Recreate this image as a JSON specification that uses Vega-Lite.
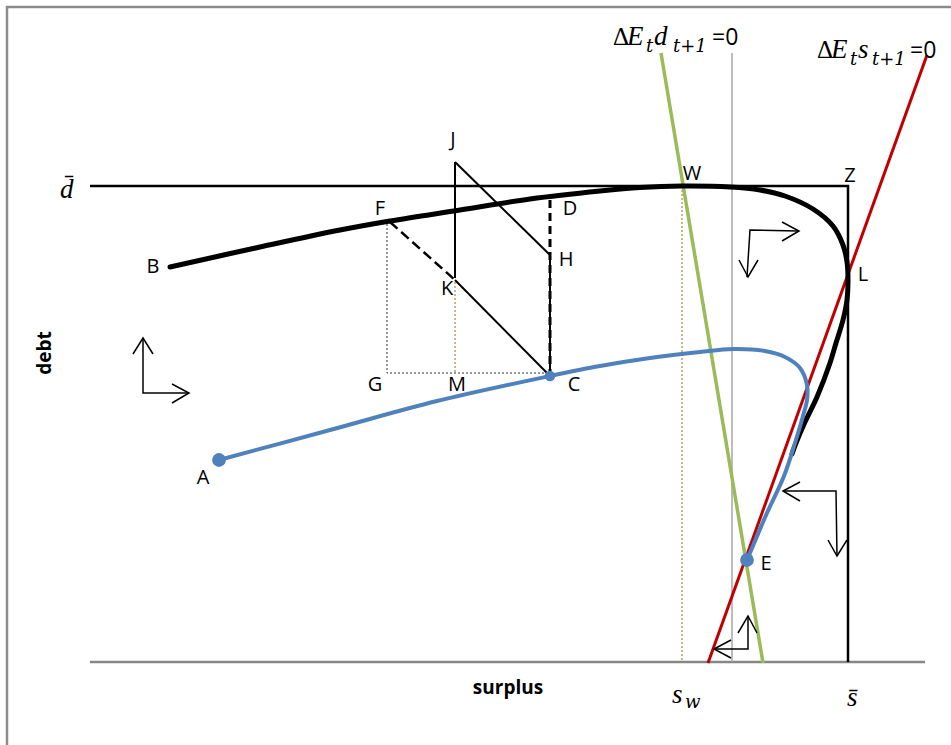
{
  "$schema": "https://vega.github.io/schema/vega-lite/v6.json",
  "width": 951,
  "height": 745,
  "padding": 0,
  "autosize": {"type": "none"},
  "background": "white",
  "config": {"view": {"stroke": null}},
  "encoding": {
    "x": {"field": "x", "type": "quantitative", "scale": {"domain": [-9, 86.1], "nice": false, "zero": false}, "axis": null},
    "y": {"field": "y", "type": "quantitative", "scale": {"domain": [-8.3, 66.2], "nice": false, "zero": false}, "axis": null}
  },
  "layer": [
    {
      "data": {"values": [{"id": "f", "o": 1, "x": -8.3, "y": -9}, {"id": "f", "o": 2, "x": -8.3, "y": 65.5}, {"id": "f", "o": 3, "x": 87, "y": 65.5}]},
      "mark": {"type": "line", "color": "#8c8c8c", "strokeWidth": 2.5},
      "encoding": {"detail": {"field": "id"}, "order": {"field": "o"}}
    },
    {
      "data": {"values": [{"id": "ax", "o": 1, "x": 0, "y": 0}, {"id": "ax", "o": 2, "x": 83.5, "y": 0}]},
      "mark": {"type": "line", "color": "#868686", "strokeWidth": 2.5},
      "encoding": {"detail": {"field": "id"}, "order": {"field": "o"}}
    },
    {
      "data": {"values": [{"id": "v", "o": 1, "x": 64.2, "y": 60.9}, {"id": "v", "o": 2, "x": 64.2, "y": 0}]},
      "mark": {"type": "line", "color": "#a6a6a6", "strokeWidth": 1.5},
      "encoding": {"detail": {"field": "id"}, "order": {"field": "o"}}
    },
    {
      "data": {"values": [
        {"id": "w", "o": 1, "x": 59.2, "y": 47.6}, {"id": "w", "o": 2, "x": 59.2, "y": 0.2},
        {"id": "km", "o": 1, "x": 36.5, "y": 38.0}, {"id": "km", "o": 2, "x": 36.5, "y": 28.9}
      ]},
      "mark": {"type": "line", "color": "#b4a06a", "strokeWidth": 1.5, "strokeDash": [2, 2]},
      "encoding": {"detail": {"field": "id"}, "order": {"field": "o"}}
    },
    {
      "data": {"values": [
        {"id": "fgc", "o": 1, "x": 29.7, "y": 44.2}, {"id": "fgc", "o": 2, "x": 29.7, "y": 28.9}, {"id": "fgc", "o": 3, "x": 46.0, "y": 28.9}
      ]},
      "mark": {"type": "line", "color": "#333333", "strokeWidth": 1, "strokeDash": [2, 2]},
      "encoding": {"detail": {"field": "id"}, "order": {"field": "o"}}
    },
    {
      "data": {"values": [{"id": "r", "o": 1, "x": 83.7, "y": 60.7}, {"id": "r", "o": 2, "x": 61.8, "y": -0.1}]},
      "mark": {"type": "line", "color": "#C00000", "strokeWidth": 3},
      "encoding": {"detail": {"field": "id"}, "order": {"field": "o"}}
    },
    {
      "data": {"values": [{"id": "g", "o": 1, "x": 57.1, "y": 60.9}, {"id": "g", "o": 2, "x": 67.3, "y": -0.1}]},
      "mark": {"type": "line", "color": "#9BBB59", "strokeWidth": 3.5},
      "encoding": {"detail": {"field": "id"}, "order": {"field": "o"}}
    },
    {
      "data": {"values": [
        {"id": "jk", "o": 1, "x": 36.5, "y": 50.0}, {"id": "jk", "o": 2, "x": 36.5, "y": 38.4},
        {"id": "jh", "o": 1, "x": 36.5, "y": 50.0}, {"id": "jh", "o": 2, "x": 46.0, "y": 40.7},
        {"id": "kc", "o": 1, "x": 36.5, "y": 38.2}, {"id": "kc", "o": 2, "x": 46.0, "y": 28.6},
        {"id": "hc", "o": 1, "x": 46.0, "y": 40.7}, {"id": "hc", "o": 2, "x": 46.0, "y": 28.6}
      ]},
      "mark": {"type": "line", "color": "black", "strokeWidth": 2},
      "encoding": {"detail": {"field": "id"}, "order": {"field": "o"}}
    },
    {
      "data": {"values": [
        {"id": "dc", "o": 1, "x": 46.0, "y": 46.2}, {"id": "dc", "o": 2, "x": 46.0, "y": 28.6}
      ]},
      "mark": {"type": "line", "color": "black", "strokeWidth": 3, "strokeDash": [8, 5]},
      "encoding": {"detail": {"field": "id"}, "order": {"field": "o"}}
    },
    {
      "data": {"values": [
        {"id": "fk", "o": 1, "x": 30.0, "y": 44.0}, {"id": "fk", "o": 2, "x": 36.5, "y": 38.2}
      ]},
      "mark": {"type": "line", "color": "black", "strokeWidth": 2.5, "strokeDash": [10, 5]},
      "encoding": {"detail": {"field": "id"}, "order": {"field": "o"}}
    },
    {
      "data": {"values": [
        {"id": "dbar", "o": 1, "x": 0, "y": 47.6}, {"id": "dbar", "o": 2, "x": 75.8, "y": 47.6}, {"id": "dbar", "o": 3, "x": 75.8, "y": 0}
      ]},
      "mark": {"type": "line", "color": "black", "strokeWidth": 2.5},
      "encoding": {"detail": {"field": "id"}, "order": {"field": "o"}}
    },
    {
      "data": {"values": [
        {"o": 1, "x": 8.0, "y": 39.5}, {"o": 2, "x": 17.0, "y": 41.5}, {"o": 3, "x": 25.0, "y": 43.2},
        {"o": 4, "x": 30.0, "y": 44.1}, {"o": 5, "x": 37.0, "y": 45.2}, {"o": 6, "x": 44.0, "y": 46.3},
        {"o": 7, "x": 51.0, "y": 47.1}, {"o": 8, "x": 55.0, "y": 47.45}, {"o": 9, "x": 59.2, "y": 47.6},
        {"o": 10, "x": 64.0, "y": 47.5}, {"o": 11, "x": 67.0, "y": 47.2}, {"o": 12, "x": 69.5, "y": 46.6},
        {"o": 13, "x": 72.3, "y": 45.3}, {"o": 14, "x": 74.3, "y": 43.6}, {"o": 15, "x": 75.3, "y": 41.7},
        {"o": 16, "x": 75.7, "y": 40.0}, {"o": 17, "x": 75.8, "y": 38.2}, {"o": 18, "x": 75.7, "y": 36.2},
        {"o": 19, "x": 75.3, "y": 34.2}, {"o": 20, "x": 74.6, "y": 31.9}, {"o": 21, "x": 74.0, "y": 29.9},
        {"o": 22, "x": 72.7, "y": 26.5}, {"o": 23, "x": 71.5, "y": 24.0}, {"o": 24, "x": 70.6, "y": 21.9},
        {"o": 25, "x": 70.2, "y": 20.8}
      ]},
      "mark": {"type": "line", "color": "black", "strokeWidth": 5, "strokeCap": "round", "interpolate": "catmull-rom"},
      "encoding": {"order": {"field": "o"}}
    },
    {
      "data": {"values": [
        {"o": 1, "x": 12.9, "y": 20.2}, {"o": 2, "x": 24.0, "y": 23.2}, {"o": 3, "x": 34.7, "y": 26.1},
        {"o": 4, "x": 46.0, "y": 28.6}, {"o": 5, "x": 51.0, "y": 29.6}, {"o": 6, "x": 56.0, "y": 30.4},
        {"o": 7, "x": 61.0, "y": 31.0}, {"o": 8, "x": 64.3, "y": 31.3}, {"o": 9, "x": 67.5, "y": 31.1},
        {"o": 10, "x": 69.5, "y": 30.5}, {"o": 11, "x": 71.0, "y": 29.4}, {"o": 12, "x": 71.7, "y": 27.7},
        {"o": 13, "x": 71.7, "y": 26.2}, {"o": 14, "x": 71.3, "y": 24.6}, {"o": 15, "x": 70.5, "y": 21.9},
        {"o": 16, "x": 69.4, "y": 18.6}, {"o": 17, "x": 67.7, "y": 14.9}, {"o": 18, "x": 65.7, "y": 10.2}
      ]},
      "mark": {"type": "line", "color": "#4F81BD", "strokeWidth": 4, "strokeCap": "round", "interpolate": "catmull-rom"},
      "encoding": {"order": {"field": "o"}}
    },
    {
      "data": {"values": [
        {"id": "a1", "o": 1, "x": 5.3, "y": 32.4}, {"id": "a1", "o": 2, "x": 5.3, "y": 26.9}, {"id": "a1", "o": 3, "x": 9.9, "y": 26.9},
        {"id": "a1u", "o": 1, "x": 4.3, "y": 30.8}, {"id": "a1u", "o": 2, "x": 5.3, "y": 32.4}, {"id": "a1u", "o": 3, "x": 6.3, "y": 30.8},
        {"id": "a1r", "o": 1, "x": 8.2, "y": 27.8}, {"id": "a1r", "o": 2, "x": 9.9, "y": 26.9}, {"id": "a1r", "o": 3, "x": 8.2, "y": 25.9},
        {"id": "a2", "o": 1, "x": 70.8, "y": 43.1}, {"id": "a2", "o": 2, "x": 66.0, "y": 43.2}, {"id": "a2", "o": 3, "x": 65.7, "y": 38.5},
        {"id": "a2r", "o": 1, "x": 69.2, "y": 44.0}, {"id": "a2r", "o": 2, "x": 70.9, "y": 43.1}, {"id": "a2r", "o": 3, "x": 69.2, "y": 42.1},
        {"id": "a2d", "o": 1, "x": 64.9, "y": 40.2}, {"id": "a2d", "o": 2, "x": 65.8, "y": 38.5}, {"id": "a2d", "o": 3, "x": 66.8, "y": 40.2},
        {"id": "a3", "o": 1, "x": 69.3, "y": 17.1}, {"id": "a3", "o": 2, "x": 74.6, "y": 17.1}, {"id": "a3", "o": 3, "x": 74.7, "y": 10.6},
        {"id": "a3l", "o": 1, "x": 71.0, "y": 18.0}, {"id": "a3l", "o": 2, "x": 69.3, "y": 17.1}, {"id": "a3l", "o": 3, "x": 71.0, "y": 16.1},
        {"id": "a3d", "o": 1, "x": 73.8, "y": 12.2}, {"id": "a3d", "o": 2, "x": 74.7, "y": 10.6}, {"id": "a3d", "o": 3, "x": 75.7, "y": 12.2},
        {"id": "a4", "o": 1, "x": 62.4, "y": 1.3}, {"id": "a4", "o": 2, "x": 65.8, "y": 1.3}, {"id": "a4", "o": 3, "x": 65.8, "y": 4.6},
        {"id": "a4l", "o": 1, "x": 64.1, "y": 2.2}, {"id": "a4l", "o": 2, "x": 62.4, "y": 1.3}, {"id": "a4l", "o": 3, "x": 64.1, "y": 0.4},
        {"id": "a4u", "o": 1, "x": 64.8, "y": 2.9}, {"id": "a4u", "o": 2, "x": 65.8, "y": 4.6}, {"id": "a4u", "o": 3, "x": 66.7, "y": 2.9}
      ]},
      "mark": {"type": "line", "color": "black", "strokeWidth": 1.5},
      "encoding": {"detail": {"field": "id"}, "order": {"field": "o"}}
    },
    {
      "data": {"values": [{"p": "A", "x": 12.9, "y": 20.2}, {"p": "E", "x": 65.7, "y": 10.2}]},
      "mark": {"type": "point", "filled": true, "color": "#4F81BD", "size": 190, "opacity": 1}
    },
    {
      "data": {"values": [{"p": "C", "x": 46.0, "y": 28.6}]},
      "mark": {"type": "point", "filled": true, "color": "#4F81BD", "size": 110, "opacity": 1}
    },
    {
      "data": {"values": [
        {"t": "W", "x": 60.2, "y": 48.8}, {"t": "Z", "x": 76.0, "y": 48.6}, {"t": "L", "x": 77.3, "y": 38.7},
        {"t": "J", "x": 36.3, "y": 52.2}, {"t": "F", "x": 29.0, "y": 45.3}, {"t": "D", "x": 48.0, "y": 45.3},
        {"t": "H", "x": 47.6, "y": 40.2}, {"t": "K", "x": 35.7, "y": 37.3}, {"t": "G", "x": 28.5, "y": 27.7},
        {"t": "M", "x": 36.7, "y": 27.7}, {"t": "C", "x": 48.4, "y": 27.7}, {"t": "B", "x": 6.3, "y": 39.5},
        {"t": "A", "x": 11.3, "y": 18.4}, {"t": "E", "x": 67.6, "y": 9.8}
      ]},
      "mark": {"type": "text", "font": "Open Sans", "fontSize": 20, "color": "black", "align": "center", "baseline": "middle"},
      "encoding": {"text": {"field": "t"}}
    },
    {
      "data": {"values": [
        {"t": "Δ", "x": 52.3, "y": 61.7}, {"t": "Δ", "x": 72.7, "y": 60.4}
      ]},
      "mark": {"type": "text", "font": "Liberation Serif", "fontSize": 25, "color": "black", "align": "left", "baseline": "alphabetic"},
      "encoding": {"text": {"field": "t"}}
    },
    {
      "data": {"values": [
        {"t": "E", "x": 53.7, "y": 61.7}, {"t": "d", "x": 56.4, "y": 61.7},
        {"t": "E", "x": 74.1, "y": 60.4}, {"t": "s", "x": 76.8, "y": 60.4},
        {"t": "s", "x": 58.2, "y": -4.1}, {"t": "s̄", "x": 75.7, "y": -4.4}, {"t": "d̄", "x": -3.0, "y": 46.4}
      ]},
      "mark": {"type": "text", "font": "Liberation Serif", "fontStyle": "italic", "fontSize": 27, "color": "black", "align": "left", "baseline": "alphabetic"},
      "encoding": {"text": {"field": "t"}}
    },
    {
      "data": {"values": [
        {"t": "t", "x": 55.6, "y": 61.0}, {"t": "t+1", "x": 58.3, "y": 61.0},
        {"t": "t", "x": 76.0, "y": 59.7}, {"t": "t+1", "x": 78.2, "y": 59.7},
        {"t": "w", "x": 59.5, "y": -4.6}
      ]},
      "mark": {"type": "text", "font": "DejaVu Serif", "fontStyle": "italic", "fontSize": 18, "color": "black", "align": "left", "baseline": "alphabetic"},
      "encoding": {"text": {"field": "t"}}
    },
    {
      "data": {"values": [{"t": "=0", "x": 62.2, "y": 61.7}, {"t": "=0", "x": 82.0, "y": 60.4}]},
      "mark": {"type": "text", "font": "Open Sans", "fontSize": 23, "color": "black", "align": "left", "baseline": "alphabetic"},
      "encoding": {"text": {"field": "t"}}
    },
    {
      "data": {"values": [{"t": "debt", "x": -4.5, "y": 30.9}]},
      "mark": {"type": "text", "font": "Open Sans", "fontWeight": "bold", "fontSize": 19, "color": "black", "align": "center", "baseline": "middle", "angle": 270},
      "encoding": {"text": {"field": "t"}}
    },
    {
      "data": {"values": [{"t": "surplus", "x": 41.8, "y": -2.6}]},
      "mark": {"type": "text", "font": "Open Sans", "fontWeight": "bold", "fontSize": 19, "color": "black", "align": "center", "baseline": "middle"},
      "encoding": {"text": {"field": "t"}}
    }
  ]
}
